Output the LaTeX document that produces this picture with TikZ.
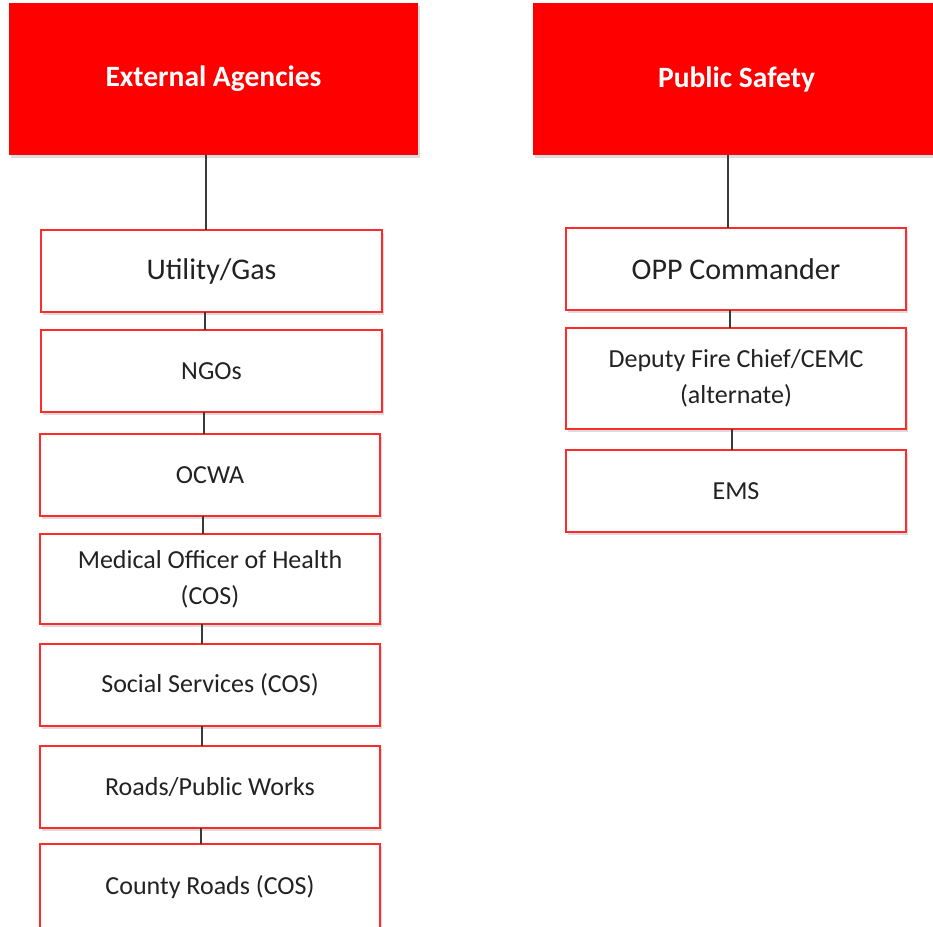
\documentclass[tikz,border=0pt]{standalone}
\usepackage{fontspec}
\setmainfont{Carlito}
\usetikzlibrary{shadows}
\definecolor{hred}{HTML}{FF0000}
\definecolor{bred}{HTML}{FF2A2A}
\definecolor{txt}{HTML}{222222}
\definecolor{conn}{HTML}{3A3A3A}
\tikzset{
  shd/.style={drop shadow={opacity=0.28, shadow xshift=1.5pt, shadow yshift=-2.5pt}},
  header/.style={fill=hred, draw=none, inner sep=0pt, outer sep=0pt, text=white,
    font=\fontsize{29.5}{34}\selectfont\bfseries, shd},
  box/.style={draw=bred, line width=2.2pt, fill=white, inner sep=0pt, outer sep=0pt,
    align=center, text=txt, font=\fontsize{26}{36}\selectfont, shd},
  bigbox/.style={box, font=\fontsize{30}{34}\selectfont},
  link/.style={draw=conn, line width=2pt}
}
\begin{document}
\begin{tikzpicture}[x=1pt,y=-1pt]
\useasboundingbox (0,0) rectangle (933,926);
% headers
\node[header, minimum width=409pt, minimum height=152pt] (hA) at (213.5,79) {External Agencies};
\node[header, minimum width=407pt, minimum height=152pt] (hB) at (736.5,79) {Public Safety};
% left column
\node[bigbox, minimum width=341pt, minimum height=82pt] (util) at (211.5,271) {Utility/Gas};
\node[box, minimum width=341pt, minimum height=82pt] (ngo) at (211.5,371) {NGOs};
\node[box, minimum width=340pt, minimum height=82pt] (ocwa) at (210,475) {OCWA};
\node[box, minimum width=340pt, minimum height=90pt] (moh) at (210,579) {Medical Officer of Health\\(COS)};
\node[box, minimum width=340pt, minimum height=82pt] (soc) at (210,685) {Social Services (COS)};
\node[box, minimum width=340pt, minimum height=82pt] (roads) at (210,787) {Roads/Public Works};
\node[box, minimum width=340pt, minimum height=86pt] (county) at (210,887) {County Roads (COS)};
% right column
\node[bigbox, minimum width=340pt, minimum height=82pt] (opp) at (736,269) {OPP Commander};
\node[box, minimum width=340pt, minimum height=101pt] (dep) at (736,378.5) {Deputy Fire Chief/CEMC\\(alternate)};
\node[box, minimum width=340pt, minimum height=82pt] (ems) at (736,491) {EMS};
% connectors
\draw[link] (hA.south -| 206,0) -- (util.north -| 206,0);
\draw[link] (util.south -| 205,0) -- (ngo.north -| 205,0);
\draw[link] (ngo.south -| 204,0) -- (ocwa.north -| 204,0);
\draw[link] (ocwa.south -| 203,0) -- (moh.north -| 203,0);
\draw[link] (moh.south -| 202,0) -- (soc.north -| 202,0);
\draw[link] (soc.south -| 202,0) -- (roads.north -| 202,0);
\draw[link] (roads.south -| 201,0) -- (county.north -| 201,0);
\draw[link] (hB.south -| 728,0) -- (opp.north -| 728,0);
\draw[link] (opp.south -| 730,0) -- (dep.north -| 730,0);
\draw[link] (dep.south -| 732,0) -- (ems.north -| 732,0);
\end{tikzpicture}
\end{document}
